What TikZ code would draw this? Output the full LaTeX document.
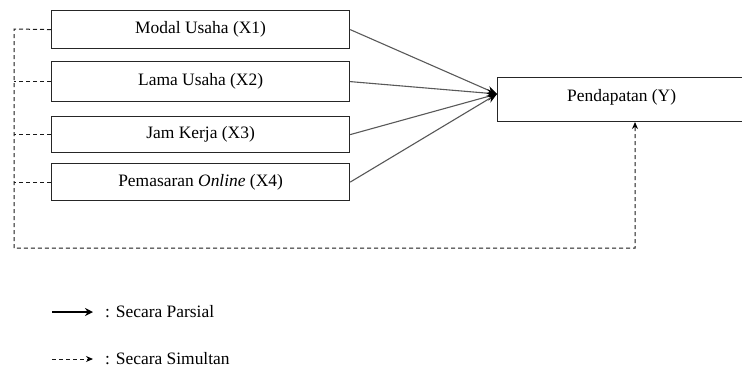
\documentclass[tikz,border=0pt]{standalone}
\usepackage{fontspec}
\setmainfont{Liberation Serif}
\usetikzlibrary{arrows.meta}
\begin{document}
\begin{tikzpicture}[x=1bp,y=-1bp,
  varbox/.style={draw=black!85,line width=1.2bp,minimum height=#1,inner sep=0pt,anchor=north west,font=\fontsize{17.5}{20}\selectfont},
  partial/.style={draw=black!65,line width=1.1bp,-{Stealth[length=10bp,width=8bp,black]}},
  simul/.style={draw=black!90,line width=1bp,dash pattern=on 4bp off 3bp},
  lbl/.style={anchor=west,inner sep=0pt,font=\fontsize{17.5}{20}\selectfont}]
\useasboundingbox (0,0) rectangle (742,374);
% independent variables
\node[varbox=38bp,minimum width=298bp] (x1) at (51,10) {Modal Usaha (X1)};
\node[varbox=40bp,minimum width=298bp] (x2) at (51,61) {Lama Usaha (X2)};
\node[varbox=36bp,minimum width=298bp] (x3) at (51,116) {Jam Kerja (X3)};
\node[varbox=37bp,minimum width=298bp] (x4) at (51,163) {Pemasaran \textit{Online} (X4)};
% dependent variable (runs past the right edge)
\node[varbox=44bp,minimum width=252bp] (y) at (497,77) {};
\node[lbl] (ytext) at (567,97) {Pendapatan (Y)};
\coordinate (tip) at (497,94);
% partial effects
\foreach \n in {x1,x2,x3,x4}
  \draw[partial] (\n.east) -- (tip);
% simultaneous effect
\coordinate (c1) at (14,29);
\coordinate (c2) at (14,248);
\coordinate (c3) at (635,248);
\coordinate (c4) at (635,122);
\draw[simul,-{Stealth[length=7bp,width=6bp,black]}] (x1.west) -- (c1) -- (c2) -- (c3) -- (c4);
\foreach \n in {x2,x3,x4}
  \draw[simul] (\n.west) -- (\n.west -| c1);
% legend
\coordinate (l1a) at (52,312);
\coordinate (l1b) at (93,312);
\draw[line width=2.2bp,-{Stealth[length=8bp,width=8bp]}] (l1a) -- (l1b);
\node[lbl] (t1) at (105,312) {: Secara Parsial};
\coordinate (l2a) at (52,359);
\coordinate (l2b) at (93,359);
\draw[simul,-{Stealth[length=7bp,width=6bp,black]}] (l2a) -- (l2b);
\node[lbl] (t2) at (105,359) {: Secara Simultan};
\end{tikzpicture}
\end{document}
